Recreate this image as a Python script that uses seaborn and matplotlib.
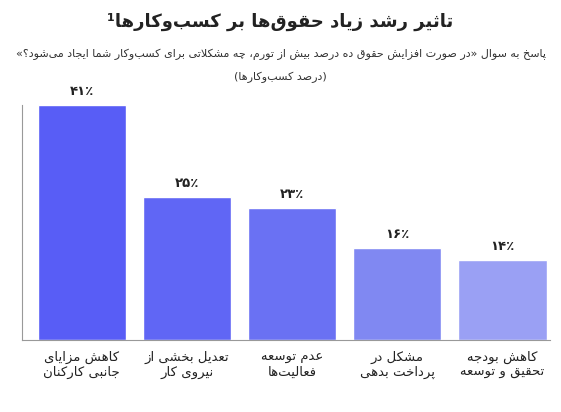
import matplotlib
matplotlib.use("Agg")
import matplotlib.pyplot as plt
import pandas as pd
import seaborn as sns

title = "تاثیر رشد زیاد حقوق‌ها بر کسب‌وکارها¹"
subtitle = "پاسخ به سوال «در صورت افزایش حقوق ده درصد بیش از تورم، چه مشکلاتی برای کسب‌وکار شما ایجاد می‌شود؟»"
unit = "(درصد کسب‌وکارها)"
categories = ["کاهش مزایای\nجانبی کارکنان", "تعدیل بخشی از\nنیروی کار", "عدم توسعه\nفعالیت‌ها",
              "مشکل در\nپرداخت بدهی", "کاهش بودجه\nتحقیق و توسعه"]
values = [41, 25, 23, 16, 14]
colors = ["#585df6", "#6066f5", "#6a71f3", "#8088f2", "#9aa0f4"]

# minimal Persian shaping: (isolated, final, initial, medial)
FORMS = {
    'ا': (0xFE8D, 0xFE8E, None, None), 'آ': (0xFE81, 0xFE82, None, None),
    'ب': (0xFE8F, 0xFE90, 0xFE91, 0xFE92), 'پ': (0xFB56, 0xFB57, 0xFB58, 0xFB59),
    'ت': (0xFE95, 0xFE96, 0xFE97, 0xFE98), 'ث': (0xFE99, 0xFE9A, 0xFE9B, 0xFE9C),
    'ج': (0xFE9D, 0xFE9E, 0xFE9F, 0xFEA0), 'چ': (0xFB7A, 0xFB7B, 0xFB7C, 0xFB7D),
    'ح': (0xFEA1, 0xFEA2, 0xFEA3, 0xFEA4), 'خ': (0xFEA5, 0xFEA6, 0xFEA7, 0xFEA8),
    'د': (0xFEA9, 0xFEAA, None, None), 'ذ': (0xFEAB, 0xFEAC, None, None),
    'ر': (0xFEAD, 0xFEAE, None, None), 'ز': (0xFEAF, 0xFEB0, None, None),
    'ژ': (0xFB8A, 0xFB8B, None, None), 'س': (0xFEB1, 0xFEB2, 0xFEB3, 0xFEB4),
    'ش': (0xFEB5, 0xFEB6, 0xFEB7, 0xFEB8), 'ص': (0xFEB9, 0xFEBA, 0xFEBB, 0xFEBC),
    'ض': (0xFEBD, 0xFEBE, 0xFEBF, 0xFEC0), 'ط': (0xFEC1, 0xFEC2, 0xFEC3, 0xFEC4),
    'ظ': (0xFEC5, 0xFEC6, 0xFEC7, 0xFEC8), 'ع': (0xFEC9, 0xFECA, 0xFECB, 0xFECC),
    'غ': (0xFECD, 0xFECE, 0xFECF, 0xFED0), 'ف': (0xFED1, 0xFED2, 0xFED3, 0xFED4),
    'ق': (0xFED5, 0xFED6, 0xFED7, 0xFED8), 'ک': (0xFB8E, 0xFB8F, 0xFB90, 0xFB91),
    'گ': (0xFB92, 0xFB93, 0xFB94, 0xFB95), 'ل': (0xFEDD, 0xFEDE, 0xFEDF, 0xFEE0),
    'م': (0xFEE1, 0xFEE2, 0xFEE3, 0xFEE4), 'ن': (0xFEE5, 0xFEE6, 0xFEE7, 0xFEE8),
    'و': (0xFEED, 0xFEEE, None, None), 'ه': (0xFEE9, 0xFEEA, 0xFEEB, 0xFEEC),
    'ی': (0xFBFC, 0xFBFD, 0xFBFE, 0xFBFF), 'ئ': (0xFE89, 0xFE8A, 0xFE8B, 0xFE8C),
    'لا': (0xFEFB, 0xFEFC, None, None),
}
MIRROR = {'«': '»', '»': '«', '(': ')', ')': '('}


def shape_line(s):
    chars = []
    i = 0
    while i < len(s):
        if s[i] == 'ل' and i + 1 < len(s) and s[i + 1] == 'ا':
            chars.append('لا'); i += 2
        else:
            chars.append(s[i]); i += 1
    out = []
    for k, c in enumerate(chars):
        if c not in FORMS:
            out.append(c)
            continue
        prev = chars[k - 1] if k > 0 else None
        nxt = chars[k + 1] if k + 1 < len(chars) else None
        join_prev = prev in FORMS and FORMS[prev][2] is not None
        join_next = nxt in FORMS and FORMS[c][2] is not None
        iso, fin, ini, med = FORMS[c]
        if join_prev and join_next:
            cp = med
        elif join_prev:
            cp = fin
        elif join_next:
            cp = ini
        else:
            cp = iso
        out.append(chr(cp))
    out = [c for c in out if c != '\u200c']
    return ''.join(MIRROR.get(c, c) for c in reversed(out))


def fa(s):
    return '\n'.join(shape_line(line) for line in s.split('\n'))


def fa_digits(n):
    return ''.join('۰۱۲۳۴۵۶۷۸۹'[int(d)] for d in str(n)) + '٪'


sns.set_theme(style="white")
plt.rcParams['font.family'] = ['DejaVu Sans']

df = pd.DataFrame({'cat': [fa(c) for c in categories], 'val': values})

fig = plt.figure(figsize=(5.61, 4.12), dpi=100)
ax = fig.add_axes([0.039, 0.175, 0.941, 0.57])
sns.barplot(data=df, x='cat', y='val', hue='cat', palette=colors, legend=False,
            width=0.84, saturation=1, ax=ax)
ax.set_xlim(-0.57, 4.45)
ax.set_ylim(0, 41)
ax.set_xlabel('')
ax.set_ylabel('')
ax.set_yticks([])
for name in ['top', 'right']:
    ax.spines[name].set_visible(False)
for name in ['left', 'bottom']:
    ax.spines[name].set_color('#999999')
    ax.spines[name].set_linewidth(0.8)
ax.tick_params(axis='x', length=0, labelsize=9.5, pad=8, colors='#222222')

for i, v in enumerate(values):
    ax.text(i, v + 1.2, fa_digits(v), ha='center', va='bottom', fontsize=9.5,
            color='#222222', fontweight='bold', clip_on=False)

fig.text(0.5, 0.935, fa(title), ha='center', fontsize=13, color='#222222', fontweight='bold')
fig.text(0.5, 0.862, fa(subtitle), ha='center', fontsize=8, color='#333333')
fig.text(0.5, 0.805, fa(unit), ha='center', fontsize=8, color='#333333')

fig.savefig('out.png', dpi=100, facecolor='white')
